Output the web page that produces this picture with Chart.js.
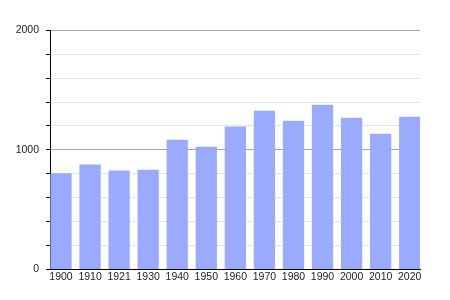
<!DOCTYPE html>
<html>
<head>
<meta charset="utf-8">
<title>population</title>
<script src="https://cdn.jsdelivr.net/npm/chart.js@4/dist/chart.umd.min.js"></script>
<style>
  body { margin: 0; background: #fff; }
</style>
</head>
<body>
<canvas id="popChart" width="450" height="300"></canvas>
<script>
var years = ["1900", "1910", "1921", "1930", "1940", "1950", "1960", "1970", "1980", "1990", "2000", "2010", "2020"];
var population = [800, 875, 823, 831, 1082, 1023, 1193, 1325, 1241, 1375, 1266, 1132, 1274];
var yTicks = [0, 1000, 2000];

var ctx = document.getElementById("popChart").getContext("2d");

new Chart(ctx, {
    type: "bar",
    data: {
        datasets: [{
            data: population.map(function (v, i) { return { x: i, y: v }; }),
            backgroundColor: "#99aaff",
            borderWidth: 0,
            barThickness: 20.6
        }]
    },
    options: {
        responsive: false,
        animation: false,
        layout: { padding: { left: 0, right: 30, top: 30.3, bottom: 0 } },
        plugins: { legend: { display: false }, tooltip: { enabled: false } },
        scales: {
            x: {
                type: "linear",
                offset: false,
                min: -0.3786,
                max: 12.354,
                grid: { display: false, drawTicks: false },
                border: { display: true, color: "#000", width: 1 },
                afterBuildTicks: function (scale) {
                    scale.ticks = years.map(function (_, i) { return { value: i }; });
                },
                afterFit: function (scale) { scale.height = 30.7; },
                ticks: {
                    autoSkip: false,
                    maxRotation: 0,
                    padding: 2,
                    color: "#222",
                    font: { family: "'Liberation Sans', Arial, sans-serif", size: 10.5 },
                    callback: function (v) { return years[v]; }
                }
            },
            y: {
                min: 0,
                max: 2000,
                grid: {
                    color: function (c) {
                        var v = c.tick.value;
                        if (v === 0) return "#000";
                        return v % 1000 === 0 ? "#a6a6a6" : "#e4e4e4";
                    },
                    tickColor: "#000",
                    tickLength: 4
                },
                border: { display: true, color: "#000", width: 1 },
                afterFit: function (scale) { scale.width = 50; },
                ticks: {
                    stepSize: 200,
                    padding: 7,
                    color: "#222",
                    font: { family: "'Liberation Sans', Arial, sans-serif", size: 10.5 },
                    callback: function (v) { return yTicks.indexOf(v) >= 0 ? v : ""; }
                }
            }
        }
    }
});
</script>
</body>
</html>
